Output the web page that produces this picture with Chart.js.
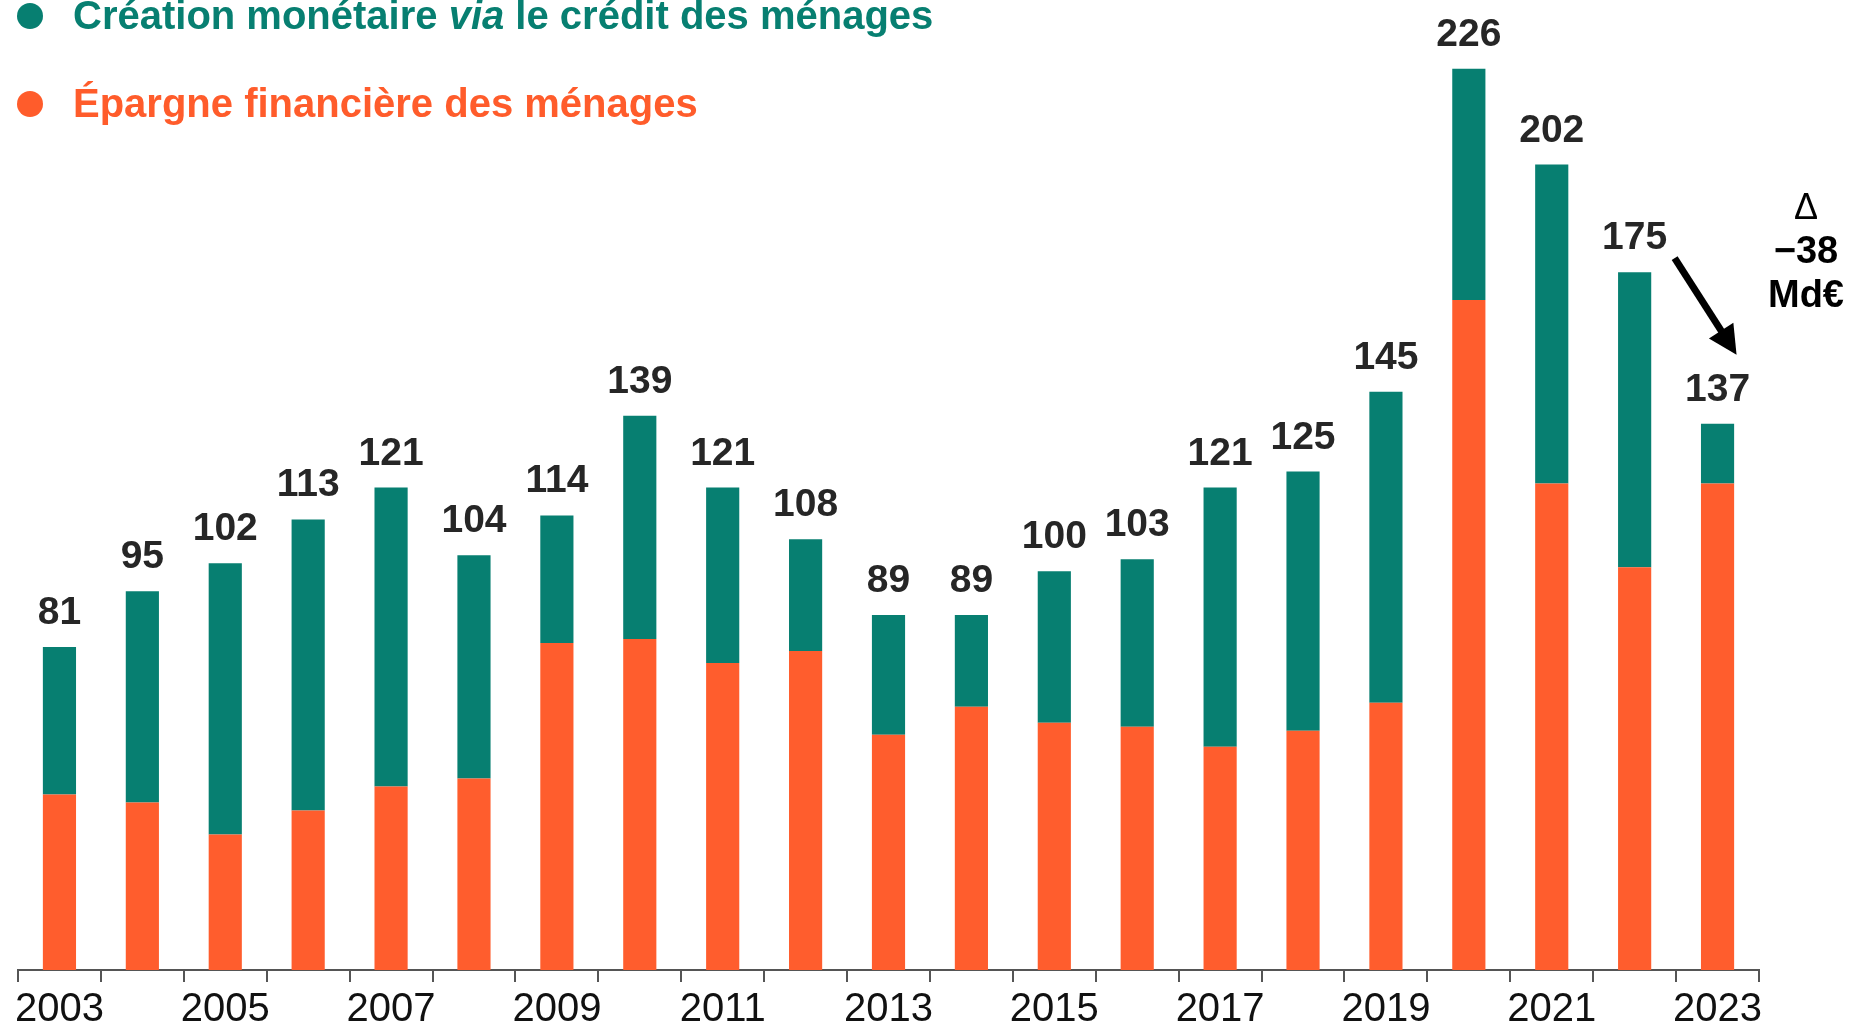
<!DOCTYPE html>
<html lang="fr">
<head>
<meta charset="utf-8">
<title>Création monétaire et épargne financière des ménages</title>
<script src="https://cdn.jsdelivr.net/npm/chart.js@4.4.1/dist/chart.umd.min.js"></script>
<style>
  html, body { margin: 0; padding: 0; background: #fff; }
  #chart { display: block; }
</style>
</head>
<body>
<canvas id="chart" width="1851" height="1024"></canvas>
<script>
// years on the x axis
const years = ['2003', '2004', '2005', '2006', '2007', '2008', '2009', '2010', '2011', '2012',
  '2013', '2014', '2015', '2016', '2017', '2018', '2019', '2020', '2021', '2022', '2023'];

// Md€
const epargne = [44, 42, 34, 40, 46, 48, 82, 83, 77, 80, 59, 66, 62, 61, 56, 60, 67, 168, 122, 101, 122];
const creation = [37, 53, 68, 73, 75, 56, 32, 56, 44, 28, 30, 23, 38, 42, 65, 65, 78, 58, 80, 74, 15];
const totals = [81, 95, 102, 113, 121, 104, 114, 139, 121, 108, 89, 89, 100, 103, 121, 125, 145, 226, 202, 175, 137];

const legendItems = [
  { color: '#077f71', parts: [['Création monétaire ', ''], ['via', 'italic '], [' le crédit des ménages', '']] },
  { color: '#ff5c2b', parts: [['Épargne financière des ménages', '']] },
];
const deltaLines = ['Δ', '−38', 'Md€'];

const FONT = '"Liberation Sans", Arial, Helvetica, sans-serif';
const TEAL = '#077f71';
const ORANGE = '#ff5d2d';

// legend in the top left corner, drawn over the plot
const legendPlugin = {
  id: 'topLegend',
  afterDraw(chart) {
    const ctx = chart.ctx;
    ctx.save();
    legendItems.forEach((item, i) => {
      const cy = 16 + i * 88;
      ctx.fillStyle = item.color;
      ctx.beginPath();
      ctx.arc(30, cy, 13, 0, Math.PI * 2);
      ctx.fill();
      let x = 73;
      ctx.textBaseline = 'alphabetic';
      item.parts.forEach(([txt, style]) => {
        ctx.font = style + 'bold 40px ' + FONT;
        ctx.fillText(txt, x, cy + 13);
        x += ctx.measureText(txt).width;
      });
    });
    ctx.restore();
  },
};

// totals above each stack
const totalsPlugin = {
  id: 'totals',
  afterDatasetsDraw(chart) {
    const ctx = chart.ctx;
    const xs = chart.scales.x;
    const ys = chart.scales.y;
    ctx.save();
    ctx.font = 'bold 39px ' + FONT;
    ctx.fillStyle = '#262626';
    ctx.textAlign = 'center';
    ctx.textBaseline = 'alphabetic';
    totals.forEach((t, i) => {
      ctx.fillText(String(t), xs.getPixelForValue(i), ys.getPixelForValue(t) - 23);
    });
    ctx.restore();
  },
};

// arrow 2022 -> 2023 and the delta note
const deltaPlugin = {
  id: 'delta',
  afterDraw(chart) {
    const ctx = chart.ctx;
    const xs = chart.scales.x;
    const ys = chart.scales.y;
    const n = totals.length;
    const x0 = xs.getPixelForValue(n - 2) + 40;
    const y0 = ys.getPixelForValue(totals[n - 2]) - 14;
    const x1 = xs.getPixelForValue(n - 1) + 19;
    const y1 = ys.getPixelForValue(totals[n - 1]) - 69;
    const ang = Math.atan2(y1 - y0, x1 - x0);
    const head = 32;
    ctx.save();
    ctx.strokeStyle = '#000';
    ctx.fillStyle = '#000';
    ctx.lineWidth = 7;
    ctx.beginPath();
    ctx.moveTo(x0, y0);
    ctx.lineTo(x1 - Math.cos(ang) * head * 0.8, y1 - Math.sin(ang) * head * 0.8);
    ctx.stroke();
    ctx.beginPath();
    ctx.moveTo(x1, y1);
    ctx.lineTo(x1 - head * Math.cos(ang - 0.47), y1 - head * Math.sin(ang - 0.47));
    ctx.lineTo(x1 - head * Math.cos(ang + 0.47), y1 - head * Math.sin(ang + 0.47));
    ctx.closePath();
    ctx.fill();

    ctx.textAlign = 'center';
    ctx.textBaseline = 'alphabetic';
    const cx = 1806;
    ctx.font = '36px ' + FONT;
    ctx.fillText(deltaLines[0], cx, 219);
    ctx.font = 'bold 38px ' + FONT;
    ctx.fillText(deltaLines[1], cx, 263);
    ctx.fillText(deltaLines[2], cx, 307);
    ctx.restore();
  },
};

new Chart(document.getElementById('chart'), {
  type: 'bar',
  data: {
    labels: years,
    datasets: [
      {
        label: 'Épargne financière des ménages',
        data: epargne,
        backgroundColor: ORANGE,
        barPercentage: 0.4,
        categoryPercentage: 1,
      },
      {
        label: 'Création monétaire via le crédit des ménages',
        data: creation,
        backgroundColor: TEAL,
        barPercentage: 0.4,
        categoryPercentage: 1,
      },
    ],
  },
  options: {
    responsive: false,
    animation: false,
    layout: {
      padding: { left: 18, right: 92, top: 13, bottom: 0 },
    },
    plugins: {
      legend: { display: false },
      tooltip: { enabled: false },
    },
    scales: {
      x: {
        stacked: true,
        // labels run close to the bottom edge, as in the original
        afterFit: (scale) => {
          scale.height = 54;
        },
        grid: {
          display: true,
          drawOnChartArea: false,
          drawTicks: true,
          tickLength: 12,
          color: '#555',
          lineWidth: 2,
        },
        border: { display: true, color: '#555', width: 2 },
        ticks: {
          autoSkip: false,
          maxRotation: 0,
          color: '#111',
          padding: 8,
          font: { family: FONT, size: 40, lineHeight: 1 },
          callback: (v, i) => (i % 2 === 0 ? years[i] : ''),
        },
      },
      y: {
        stacked: true,
        display: false,
        min: 0,
        max: 240,
      },
    },
  },
  plugins: [legendPlugin, totalsPlugin, deltaPlugin],
});
</script>
</body>
</html>
